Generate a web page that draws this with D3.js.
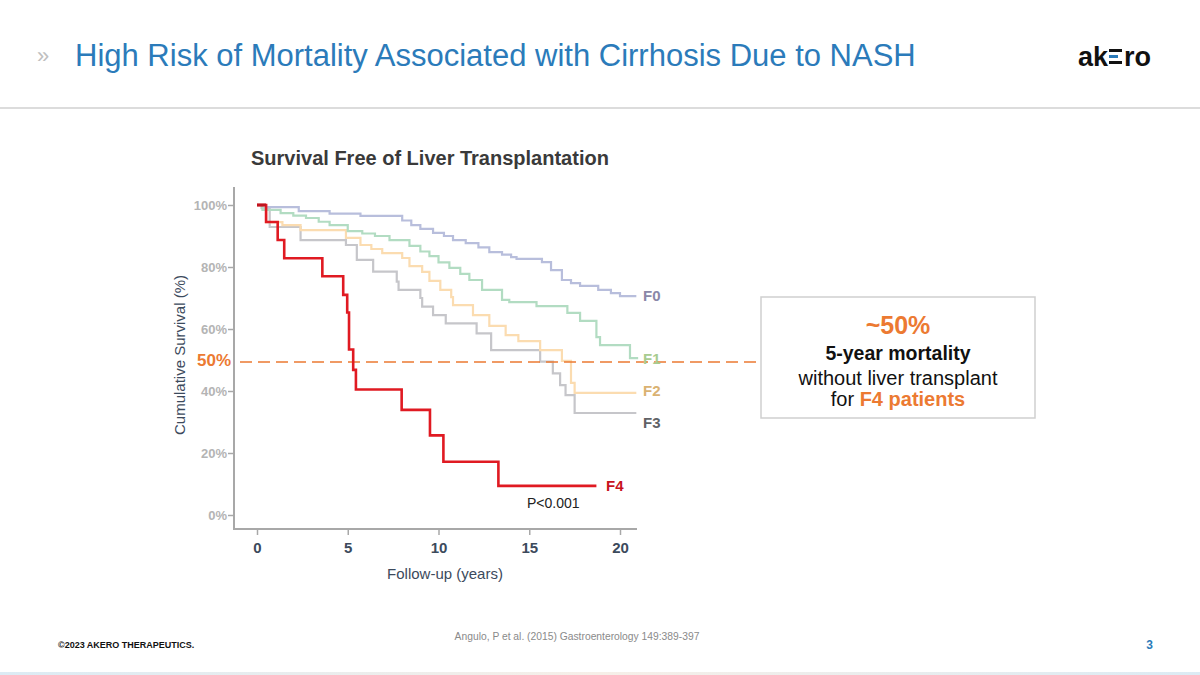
<!DOCTYPE html>
<html><head><meta charset="utf-8">
<script src="https://cdn.jsdelivr.net/npm/d3@7"></script>
<style>
html,body{margin:0;padding:0;background:#fff;}
svg{display:block;font-family:"Liberation Sans",Arial,sans-serif;}
</style></head>
<body><svg id="c" width="1200" height="675"></svg>
<script>
// ---- data (years, cumulative survival %) ----
const xTicks = [0, 5, 10, 15, 20];
const yTicks = [0, 20, 40, 60, 80, 100];
const yTickLabels = ["0%", "20%", "40%", "60%", "80%", "100%"];

const f0Time = [0, 0.5, 2.3, 4.0, 5.7, 8.0, 8.5, 9.0, 9.7, 10.3, 10.8, 11.5, 12.2, 12.8, 13.5, 14.0, 14.3, 15.7, 16.2, 16.8, 17.3, 17.8, 18.8, 19.5, 20.0, 20.9];
const f0Surv = [100, 99.3, 98.0, 97.2, 96.5, 95.0, 93.5, 92.3, 91.0, 90.0, 88.7, 87.7, 86.3, 84.8, 84.0, 83.2, 82.6, 81.6, 79.0, 75.8, 74.8, 73.9, 72.6, 71.6, 70.6, 70.6];

const f1Time = [0, 0.3, 1.3, 2.0, 2.7, 3.4, 4.0, 5.0, 5.8, 6.5, 7.3, 8.4, 9.0, 9.5, 10.0, 10.6, 11.2, 11.7, 12.4, 13.5, 13.9, 15.4, 17.1, 17.8, 18.7, 18.9, 20.55, 21.0];
const f1Surv = [100, 98.4, 97.4, 96.6, 95.8, 94.6, 93.5, 91.6, 90.8, 90.0, 88.7, 86.8, 85.0, 83.5, 81.5, 79.7, 77.8, 75.8, 72.6, 69.4, 68.7, 67.4, 65.2, 62.6, 57.4, 54.8, 50.6, 50.6];

const f2Time = [0, 0.5, 1.4, 2.4, 4.9, 5.7, 6.3, 6.9, 8.0, 8.4, 9.1, 9.5, 10.1, 10.7, 10.8, 11.9, 12.8, 13.7, 14.4, 15.6, 16.8, 17.3, 17.5, 20.9];
const f2Surv = [100, 94.5, 93.5, 91.9, 89.4, 87.1, 85.8, 84.5, 82.9, 80.3, 78.4, 75.5, 72.6, 70.3, 67.7, 64.5, 61.0, 58.0, 56.1, 53.2, 49.7, 42.6, 39.4, 39.4];

const f3Time = [0, 0.25, 0.7, 2.4, 4.9, 5.5, 6.4, 7.7, 7.8, 9.0, 9.1, 9.7, 10.4, 12.1, 12.9, 15.6, 16.3, 16.7, 17.0, 17.5, 20.9];
const f3Surv = [100, 99.0, 92.9, 88.7, 87.1, 82.3, 78.5, 75.3, 72.6, 70.0, 67.2, 64.5, 61.8, 58.6, 53.2, 49.5, 45.7, 41.9, 38.7, 32.9, 32.9];

const f4Time = [0, 0.5, 1.14, 1.5, 3.6, 4.75, 4.97, 5.07, 5.3, 5.45, 7.97, 9.53, 10.27, 13.3, 18.7];
const f4Surv = [100, 94.5, 88.7, 82.8, 77.0, 71.0, 65.3, 53.4, 46.8, 40.5, 33.9, 25.7, 17.2, 9.4, 9.4];

const seriesNames = ["F0", "F1", "F2", "F3", "F4"];
const refLevel = 50;

// ---- drawing ----
const svg = d3.select("#c");

// header
svg.append("text").attr("x", 37).attr("y", 63).attr("font-size", 22).attr("fill", "#c0c0c0").text("»");
svg.append("text").attr("x", 75).attr("y", 66).attr("font-size", 31).attr("fill", "#2b7bba")
  .text("High Risk of Mortality Associated with Cirrhosis Due to NASH");
// logo
const logo = svg.append("g").attr("transform", "translate(1078,66)");
logo.append("text").attr("x", 0).attr("y", 0).attr("font-size", 27).attr("font-weight", "bold").attr("fill", "#111").text("ak");
[[0, "#111"], [6, "#2b7bba"], [12, "#111"]].forEach(([dy, c]) => {
  logo.append("rect").attr("x", 31).attr("y", -17 + dy).attr("width", dy === 6 ? 9 : 13).attr("height", 3).attr("fill", c);
});
logo.append("text").attr("x", 46).attr("y", 0).attr("font-size", 27).attr("font-weight", "bold").attr("fill", "#111").text("ro");

svg.append("rect").attr("x", 0).attr("y", 107).attr("width", 1200).attr("height", 2).attr("fill", "#dcdcdc");

// chart
const x = d3.scaleLinear().domain([0, 20]).range([257, 620]);
const y = d3.scaleLinear().domain([0, 100]).range([515, 205]);

svg.append("text").attr("x", 251).attr("y", 165).attr("font-size", 20).attr("font-weight", "bold").attr("fill", "#3a3a3a")
  .text("Survival Free of Liver Transplantation");

// axes
const yAxis = d3.axisLeft(y).tickValues(yTicks).tickFormat((d, i) => yTickLabels[i]).tickSize(6).tickSizeOuter(0);
const gy = svg.append("g").attr("transform", "translate(234,0)").call(yAxis);
gy.select(".domain").remove();
gy.selectAll(".tick line").attr("stroke", "#a8a8a8").attr("stroke-width", 1.5);
gy.selectAll(".tick text").attr("font-size", 13).attr("font-weight", "bold").attr("fill", "#b4b4b4")
  .attr("font-family", "Liberation Sans, Arial, sans-serif").attr("x", -7);

const xAxis = d3.axisBottom(x).tickValues(xTicks).tickSize(6).tickSizeOuter(0);
const gx = svg.append("g").attr("transform", "translate(0,529)").call(xAxis);
gx.select(".domain").remove();
gx.selectAll(".tick line").attr("stroke", "#a8a8a8").attr("stroke-width", 1.5);
gx.selectAll(".tick text").attr("font-size", 15).attr("font-weight", "bold").attr("fill", "#3c4a5c")
  .attr("font-family", "Liberation Sans, Arial, sans-serif").attr("y", 13);

svg.append("path").attr("d", "M234,187 V529 H637").attr("fill", "none").attr("stroke", "#a8a8a8").attr("stroke-width", 2);

svg.append("text").attr("transform", "translate(185,355) rotate(-90)").attr("text-anchor", "middle")
  .attr("font-size", 15).attr("fill", "#3c4a5c").text("Cumulative Survival (%)");
svg.append("text").attr("x", 445).attr("y", 579).attr("text-anchor", "middle")
  .attr("font-size", 15).attr("fill", "#3c4a5c").text("Follow-up (years)");

// curves
const line = d3.line().x(d => x(d[0])).y(d => y(d[1])).curve(d3.curveStepAfter);
const zip = (t, s) => t.map((v, i) => [v, s[i]]);
const series = [
  {name: seriesNames[3], data: zip(f3Time, f3Surv), color: "#c6c6ca", w: 2.2},
  {name: seriesNames[2], data: zip(f2Time, f2Surv), color: "#fbdcb0", w: 2.2},
  {name: seriesNames[1], data: zip(f1Time, f1Surv), color: "#b2dcc2", w: 2.2},
  {name: seriesNames[0], data: zip(f0Time, f0Surv), color: "#b8bedc", w: 2.2},
];
series.forEach(s => {
  svg.append("path").attr("d", line(s.data)).attr("fill", "none").attr("stroke", s.color).attr("stroke-width", s.w);
});

// 50% reference
svg.append("line").attr("x1", 240).attr("x2", 760).attr("y1", y(refLevel) + 2).attr("y2", y(refLevel) + 2)
  .attr("stroke", "#ec7a32").attr("stroke-width", 1.6).attr("stroke-dasharray", "12,6");
svg.append("text").attr("x", 231).attr("y", 366).attr("text-anchor", "end").attr("font-size", 17).attr("font-weight", "bold")
  .attr("fill", "#ec7a32").text("50%");

svg.append("path").attr("d", line(zip(f4Time, f4Surv))).attr("fill", "none").attr("stroke", "#e01a22").attr("stroke-width", 2.6);
svg.append("path").attr("d", `M${x(0)},${y(100)} H${x(0.5)}`).attr("stroke", "#c0141e").attr("stroke-width", 3);

// series labels
const labels = [
  {t: seriesNames[0], x: 643, y: 301, c: "#8a88a8"},
  {t: seriesNames[1], x: 643, y: 364, c: "#a8cc90"},
  {t: seriesNames[2], x: 643, y: 396, c: "#dab272"},
  {t: seriesNames[3], x: 643, y: 428, c: "#606266"},
  {t: seriesNames[4], x: 606, y: 491, c: "#c8141e"},
];
labels.forEach(l => svg.append("text").attr("x", l.x).attr("y", l.y).attr("font-size", 15).attr("font-weight", "bold").attr("fill", l.c).text(l.t));
svg.append("text").attr("x", 527).attr("y", 508).attr("font-size", 14).attr("fill", "#222").text("P<0.001");

// callout box
svg.append("rect").attr("x", 761).attr("y", 297).attr("width", 274).attr("height", 121).attr("fill", "#fff").attr("stroke", "#cfcfcf").attr("stroke-width", 1.5);
svg.append("text").attr("x", 898).attr("y", 334).attr("text-anchor", "middle").attr("font-size", 25).attr("font-weight", "bold").attr("fill", "#ec7a32").text("~50%");
svg.append("text").attr("x", 898).attr("y", 360).attr("text-anchor", "middle").attr("font-size", 19.5).attr("font-weight", "bold").attr("fill", "#111").text("5-year mortality");
svg.append("text").attr("x", 898).attr("y", 385).attr("text-anchor", "middle").attr("font-size", 20).attr("fill", "#111").text("without liver transplant");
const t4 = svg.append("text").attr("x", 898).attr("y", 406).attr("text-anchor", "middle").attr("font-size", 20).attr("fill", "#111");
t4.append("tspan").text("for ");
t4.append("tspan").attr("font-weight", "bold").attr("fill", "#ec7a32").text("F4 patients");

// footer
svg.append("text").attr("x", 58).attr("y", 648).attr("font-size", 9).attr("font-weight", "bold").attr("fill", "#111").text("©2023 AKERO THERAPEUTICS.");
svg.append("text").attr("x", 577).attr("y", 640).attr("text-anchor", "middle").attr("font-size", 10.3).attr("fill", "#8a8a8a").text("Angulo, P et al. (2015) Gastroenterology 149:389-397");
svg.append("text").attr("x", 1153).attr("y", 649).attr("text-anchor", "end").attr("font-size", 12).attr("font-weight", "bold").attr("fill", "#2b7bba").text("3");
const grad = svg.append("defs").append("linearGradient").attr("id", "fg");
grad.append("stop").attr("offset", "0%").attr("stop-color", "#dcebf4");
grad.append("stop").attr("offset", "50%").attr("stop-color", "#f6efe8");
grad.append("stop").attr("offset", "100%").attr("stop-color", "#dcebf4");
svg.append("rect").attr("x", 0).attr("y", 672).attr("width", 1200).attr("height", 3).attr("fill", "url(#fg)");
</script></body></html>
